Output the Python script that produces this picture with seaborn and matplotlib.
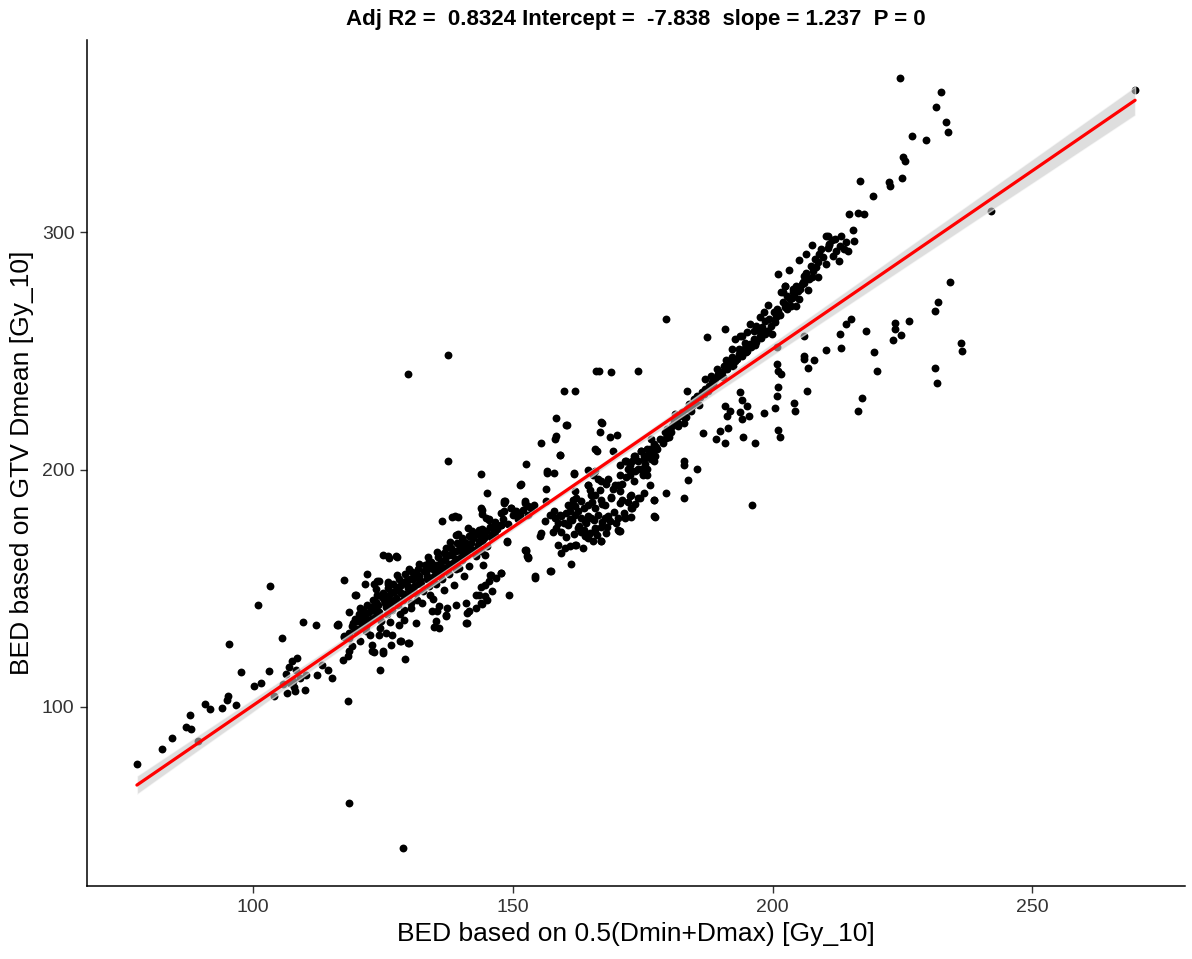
import numpy as np
import pandas as pd
import matplotlib
matplotlib.use("Agg")
import matplotlib.pyplot as plt
import seaborn as sns

# ---- data (x = BED 0.5(Dmin+Dmax), y = BED GTV Dmean) ----
# low tail
low_x = [77.6, 82.4, 84.3, 87.0, 88.0, 87.8, 89.3, 90.8, 91.6, 93.9, 95.0, 95.2, 96.7, 95.4, 97.7,
         101.0, 103.3, 100.2, 101.5, 103.0, 105.5, 104.0, 106.3, 107.5, 108.4, 107.6, 106.5, 108.0,
         109.0, 107.1, 109.6, 112.0, 110.0, 110.1, 112.2, 113.2, 114.3, 115.1, 116.3, 117.4, 117.4,
         118.2, 118.4, 128.9, 116.1, 117.4, 106.8, 108.2, 107.9, 105.8]
low_y = [76.0, 82.4, 87.0, 91.6, 90.8, 96.6, 85.7, 101.3, 99.2, 99.6, 103.0, 104.6, 100.8, 126.5, 114.7,
         143.0, 151.0, 108.8, 110.0, 115.0, 129.0, 104.6, 113.9, 119.3, 120.6, 111.0, 106.0, 106.7,
         112.0, 110.0, 135.7, 134.5, 107.0, 113.4, 113.4, 117.6, 115.5, 112.0, 134.5, 129.4, 153.4,
         102.5, 59.7, 40.8, 134.5, 129.8, 117.0, 115.5, 108.5, 109.5]

# around the start of the main band
start_x = [117.2, 118.2, 118.5, 119.1, 119.7, 122.0, 118.5, 120.5, 123.3, 125.0, 124.5, 125.0, 126.0,
           127.5, 129.3, 128.3, 129.8, 119.5, 121.6, 123.3, 124.3, 126.0, 120.8, 119.9, 121.0, 121.8,
           119.5, 118.5, 120.5, 122.9, 124.3, 125.6, 126.8, 128.5, 130.0, 126.6, 124.9, 122.9, 128.1,
           129.1, 131.4, 116.3, 126.2, 127.7, 123.9]
start_y = [119.7, 121.4, 123.5, 125.6, 147.0, 156.0, 140.0, 141.6, 123.0, 123.5, 115.5, 163.9, 163.4,
           163.4, 120.0, 127.7, 126.9, 147.0, 151.7, 151.7, 153.0, 151.7, 138.7, 136.1, 134.5, 131.9,
           132.4, 129.0, 127.7, 126.0, 130.3, 131.1, 130.3, 127.7, 126.9, 126.0, 122.7, 123.5, 134.5,
           136.6, 135.3, 134.9, 162.6, 163.0, 153.0]

# dense main band
band_x = [118.5, 119.0, 119.5, 120.0, 120.3, 120.8, 121.2, 121.5, 121.8, 122.0, 122.3, 122.6, 123.0,
          123.2, 123.5, 123.8, 124.0, 124.3, 124.6, 125.0, 125.2, 125.5, 125.8, 126.0, 126.2, 126.5,
          126.8, 127.0, 127.2, 127.5, 127.8, 128.0, 128.2, 128.5, 128.8, 129.0, 129.2, 129.5, 129.8,
          130.0, 130.3, 130.5, 130.8, 131.0, 131.3, 131.6, 131.8, 132.0, 132.3, 132.6, 133.0, 133.2,
          133.5, 133.8, 134.0, 134.3, 134.6, 134.9, 135.2, 135.5, 135.8, 136.0, 136.3, 136.7, 137.0,
          137.3, 137.6, 138.0, 138.3, 138.6, 139.0, 139.3, 139.6, 140.0, 140.4, 140.8, 141.2, 141.6,
          142.0, 142.5, 143.0, 143.5, 144.0, 144.5, 145.0, 145.5, 146.0, 146.5, 147.0, 148.0, 149.0,
          150.0, 151.0, 152.0, 153.0, 154.0]
band_y = [131.0, 134.0, 137.0, 133.0, 139.0, 136.0, 141.0, 138.0, 134.0, 143.0, 140.0, 137.0, 145.0,
          141.0, 138.0, 147.0, 143.0, 140.0, 136.0, 148.0, 145.0, 142.0, 139.0, 150.0, 147.0, 144.0,
          141.0, 152.0, 149.0, 146.0, 143.0, 154.0, 151.0, 148.0, 145.0, 141.0, 156.0, 153.0, 150.0,
          147.0, 144.0, 157.0, 154.0, 151.0, 148.0, 145.0, 158.0, 155.0, 152.0, 149.0, 160.0, 157.0,
          154.0, 151.0, 147.0, 161.0, 158.0, 155.0, 152.0, 163.0, 160.0, 157.0, 154.0, 165.0, 162.0,
          159.0, 156.0, 167.0, 164.0, 161.0, 158.0, 169.0, 166.0, 163.0, 170.0, 167.0, 164.0, 172.0,
          169.0, 166.0, 173.0, 170.0, 175.0, 172.0, 168.0, 176.0, 173.0, 178.0, 175.0, 179.0, 177.0,
          181.0, 179.0, 183.0, 181.0, 185.0]

# second layer of the dense main band
band2_x = [119.2, 120.6, 121.4, 122.1, 122.8, 123.6, 124.1, 124.8, 125.4, 126.1, 126.9, 127.4, 127.9,
           128.6, 129.1, 129.6, 130.2, 130.7, 131.2, 131.7, 132.1, 132.8, 133.4, 133.9, 134.5, 135.1,
           135.6, 136.1, 136.6, 137.2, 137.8, 138.4, 139.1, 139.8, 140.5, 141.0, 141.8, 142.4, 143.2,
           143.9, 144.8, 145.8, 122.5, 124.4, 126.3, 128.3, 130.4, 132.5, 134.7, 136.8, 138.7, 140.6,
           123.7, 125.9, 127.6, 129.9, 131.9, 133.6, 135.3, 137.9, 139.5, 141.4]
band2_y = [135.5, 137.8, 139.5, 136.2, 142.3, 144.1, 139.1, 146.2, 143.6, 145.4, 148.3, 144.2, 150.6,
           152.5, 147.4, 151.2, 153.8, 149.6, 155.7, 151.9, 153.4, 157.1, 155.2, 158.6, 153.3, 159.4,
           156.7, 161.6, 158.5, 163.7, 160.4, 165.6, 162.2, 167.4, 164.8, 169.1, 166.5, 171.3, 168.2,
           172.6, 174.3, 171.4, 130.5, 133.2, 135.8, 139.2, 141.6, 143.8, 145.5, 149.2, 151.4, 155.3,
           149.5, 152.8, 155.6, 158.2, 160.4, 163.1, 165.4, 169.6, 172.8, 175.3]

# band edge and points around 133-158
mid_x = [134.4, 135.8, 137.3, 137.1, 135.2, 135.8, 139.0, 140.9, 141.5, 141.1, 142.8, 144.0, 142.8,
         143.8, 144.7, 145.3, 145.9, 144.7, 146.7, 147.8, 136.3, 138.8, 144.0, 144.0, 145.3, 145.9,
         147.8, 148.2, 147.8, 139.0, 140.2, 142.1, 143.4, 144.0, 141.5, 144.7, 137.1, 137.7, 136.3,
         135.2, 133.8, 139.0, 140.2, 141.5, 139.6, 142.8, 140.9, 141.1, 135.4, 137.1, 134.8, 143.4,
         143.8, 145.0, 145.5, 149.3, 138.2, 139.4, 145.3, 146.1, 148.8, 152.6, 153.0, 154.3, 157.2,
         137.5, 129.8, 137.5, 143.8, 151.6, 145.1, 148.2, 149.7, 152.4, 153.0, 156.4, 156.4, 152.6,
         158.0, 161.8, 155.4, 159.0, 158.1, 158.3, 158.3, 160.2, 159.8, 162.0, 166.0]
mid_y = [140.3, 142.4, 141.6, 138.2, 136.1, 133.2, 142.9, 143.7, 140.3, 135.3, 141.6, 143.3, 147.0,
         150.4, 151.3, 152.9, 148.7, 146.6, 154.2, 156.3, 178.2, 180.3, 182.8, 181.1, 179.0, 176.0,
         176.5, 185.7, 181.5, 172.3, 171.0, 174.0, 174.4, 169.7, 168.0, 171.8, 166.8, 163.9, 161.3,
         159.7, 161.3, 165.5, 161.8, 159.2, 158.4, 163.4, 135.3, 139.5, 140.3, 138.7, 133.6, 147.0,
         143.7, 145.0, 155.5, 147.0, 179.8, 179.8, 178.6, 175.6, 169.3, 166.0, 163.0, 154.2, 157.1,
         248.3, 240.3, 203.4, 198.3, 193.7, 190.0, 186.6, 183.6, 185.7, 184.5, 186.6, 192.0, 202.5,
         198.7, 198.7, 211.0, 206.3, 213.0, 214.3, 221.8, 218.9, 233.0, 233.2, 241.6]

# lower branch 143-178
lowb_x = [143.8, 144.9, 146.7, 147.8, 148.2, 148.4, 149.7, 150.5, 151.4, 152.4, 153.5, 143.4, 144.4,
          146.5, 143.8, 144.7, 144.2, 145.7, 147.8, 148.8, 152.4, 153.0, 157.2, 158.1, 159.3, 160.2,
          161.0, 162.0, 163.1, 164.4, 166.3, 167.7, 168.6, 166.9, 165.8, 164.8, 163.9, 164.4, 165.4,
          162.5, 160.6, 158.7, 157.7, 155.4, 155.3, 158.7, 161.0, 162.1, 163.5, 166.9, 167.9, 170.2,
          152.6, 152.8, 159.3, 161.2, 157.4, 154.3, 162.0, 162.1, 164.4, 164.8, 165.8, 166.7, 166.9,
          167.7, 168.8, 169.2, 170.2, 170.7, 171.1, 167.9, 164.4, 165.8, 163.1, 162.0, 161.1, 177.2,
          177.2, 174.4, 172.7, 173.0, 171.5, 170.2, 170.7, 172.7, 159.1, 160.6, 161.6, 162.5, 163.9,
          165.0, 163.1, 164.4, 165.8, 166.9, 162.0, 160.0, 159.3, 171.5, 172.7, 156.6, 151.4, 156.6]
lowb_y = [183.6, 179.4, 176.5, 176.5, 182.4, 186.6, 183.6, 182.4, 180.7, 186.6, 183.6, 173.9, 171.0,
          172.3, 165.5, 163.9, 159.7, 155.5, 156.3, 169.7, 166.0, 162.6, 180.7, 179.4, 180.3, 181.5,
          182.4, 180.7, 179.4, 180.3, 180.7, 179.4, 178.2, 176.0, 174.4, 173.1, 171.8, 171.0, 169.7,
          175.2, 176.5, 177.3, 173.9, 173.1, 171.8, 168.1, 167.6, 168.1, 166.8, 169.7, 173.1, 174.4,
          165.5, 163.4, 164.7, 160.1, 157.1, 155.0, 190.8, 188.2, 193.3, 191.2, 189.1, 191.2, 187.0,
          184.9, 187.8, 192.0, 193.3, 190.8, 187.0, 194.1, 184.9, 183.6, 186.6, 184.5, 184.9, 187.0,
          180.3, 187.8, 189.1, 183.6, 179.8, 179.4, 174.0, 179.8, 180.7, 184.9, 187.0, 182.4, 178.2,
          179.4, 173.9, 172.3, 175.2, 169.7, 168.1, 166.8, 173.9, 179.4, 183.6, 199.2, 193.3, 198.7]

# extra points in the lower branch
lowb2_x = [158.2, 159.8, 161.4, 162.8, 164.1, 165.6, 167.2, 168.3, 169.4, 160.3, 161.7, 163.6, 166.1,
           168.1, 169.9, 171.3, 172.2, 173.6, 175.2, 176.3, 170.6, 168.9, 167.1, 165.2, 163.7, 160.9,
           157.9, 156.1]
lowb2_y = [175.4, 177.6, 178.8, 176.2, 177.4, 178.6, 177.8, 180.5, 182.2, 171.4, 172.7, 174.6, 172.4,
           175.9, 177.6, 181.9, 186.4, 185.4, 190.2, 193.4, 186.1, 188.3, 185.6, 186.4, 183.9, 179.1,
           182.6, 178.4]

# upper branch 160-200
upb_x = [166.9, 166.7, 168.6, 170.0, 165.8, 169.2, 160.4, 159.1, 161.8, 166.5, 168.8, 174.0, 179.5,
         187.4, 190.8, 167.1, 166.2, 164.4, 165.4, 166.3, 172.5, 173.6, 174.6, 175.5, 176.5, 177.4,
         172.5, 171.7, 173.4, 174.6, 175.9, 176.8, 175.3, 174.0, 172.5, 175.0, 175.9, 170.7, 172.1,
         173.0, 171.5, 173.6, 172.7, 174.6, 175.3, 176.3, 177.2, 176.5, 177.8, 178.4, 179.2, 179.7,
         180.1, 180.7, 181.1, 181.6, 182.0, 182.6, 183.0, 183.6, 183.9, 183.6, 184.5, 185.1, 185.5,
         186.0, 186.4, 187.0, 187.0, 187.8, 188.3, 188.9, 189.3, 189.7, 190.2, 190.6, 191.2, 191.8,
         192.2, 192.7, 193.5, 194.1, 194.5, 195.0, 195.6, 196.4, 196.9, 197.5, 198.3, 199.2, 170.7,
         171.7, 173.4, 175.0, 175.9, 177.2, 174.0, 171.1, 166.9, 168.3, 169.6, 165.0, 164.4, 165.8]
upb_y = [220.2, 216.0, 213.9, 214.7, 208.8, 208.0, 218.9, 206.3, 198.3, 241.6, 241.2, 241.6, 263.4,
         255.9, 259.2, 219.7, 207.6, 200.0, 197.9, 196.2, 197.5, 199.2, 200.4, 202.5, 204.6, 205.9,
         201.7, 203.8, 205.9, 208.0, 208.8, 207.6, 205.9, 203.4, 199.6, 198.3, 197.5, 197.5, 200.4,
         203.4, 203.8, 205.9, 199.2, 207.6, 204.6, 208.8, 210.9, 213.0, 208.8, 213.0, 216.0, 217.2,
         213.9, 218.5, 220.6, 220.2, 222.7, 224.4, 222.3, 225.6, 227.7, 233.2, 226.9, 229.0, 231.1,
         230.7, 232.8, 234.0, 238.2, 235.3, 237.0, 238.2, 242.4, 239.5, 241.2, 243.7, 242.4, 245.4,
         247.5, 245.8, 248.7, 247.9, 250.8, 250.0, 252.9, 255.0, 253.8, 256.3, 258.0, 258.4, 201.7,
         197.0, 195.0, 197.5, 200.4, 203.4, 200.4, 194.1, 195.0, 196.2, 193.3, 189.1, 193.3, 199.2]

# extra points in the upper branch
upb2_x = [178.9, 180.4, 181.8, 182.9, 184.2, 185.8, 186.7, 187.6, 188.6, 189.5, 190.4, 191.5, 192.4,
          193.2, 194.8, 195.9, 196.7, 197.8, 198.6, 199.7, 200.6, 201.4, 202.5, 203.8, 204.9, 205.6,
          206.4, 207.3, 208.2, 209.4, 210.6, 211.4, 212.1, 181.2, 184.8, 188.1, 191.1, 194.6, 197.2,
          200.9, 203.9, 177.6, 179.4, 176.1, 183.4]
upb2_y = [211.2, 215.6, 218.3, 219.8, 224.5, 227.1, 231.9, 233.2, 236.1, 240.3, 239.1, 244.2, 243.5,
          246.4, 249.3, 251.6, 252.4, 255.2, 256.9, 260.3, 264.1, 265.2, 269.4, 272.4, 275.3, 278.2,
          282.6, 285.9, 288.6, 292.8, 293.4, 296.6, 297.1, 223.4, 229.6, 239.4, 246.3, 253.2, 258.7,
          267.5, 274.6, 209.4, 213.2, 206.2, 222.1]

# upper branch 194-216
top_x = [213.2, 214.1, 213.0, 213.8, 214.5, 212.2, 211.7, 212.8, 210.9, 210.3, 207.6, 206.5, 205.0,
         203.1, 201.0, 209.0, 209.8, 208.8, 210.3, 208.4, 207.8, 208.8, 207.1, 206.1, 205.9, 204.6,
         205.2, 204.0, 206.9, 204.2, 203.3, 202.3, 201.7, 202.7, 202.1, 203.6, 202.7, 201.1, 199.2,
         200.2, 198.3, 197.5, 198.5, 199.4, 200.4, 196.9, 195.6, 196.4, 197.9, 198.9, 199.8, 195.0,
         194.1, 193.7, 192.7, 193.5, 195.0, 192.2, 207.5, 206.0, 202.3, 202.1, 205.0, 204.6, 202.3]
top_y = [298.3, 295.8, 294.1, 292.9, 292.0, 292.0, 289.9, 287.8, 295.0, 298.3, 294.5, 290.8, 288.2,
         284.0, 282.4, 290.8, 289.5, 287.4, 286.6, 285.3, 283.6, 281.1, 280.3, 281.5, 279.0, 277.3,
         276.1, 276.1, 275.6, 273.1, 271.8, 277.3, 274.8, 273.1, 270.6, 268.9, 267.6, 266.8, 269.3,
         266.4, 266.4, 264.3, 262.6, 263.4, 262.2, 260.5, 261.3, 258.4, 260.1, 258.4, 257.1, 258.0,
         256.3, 256.3, 255.0, 250.8, 252.1, 250.8, 281.0, 278.6, 277.3, 274.8, 271.8, 268.9, 268.5]

# upper tail
tail_x = [224.5, 232.5, 231.4, 233.3, 233.8, 226.8, 229.6, 225.2, 225.4, 224.9, 222.4, 222.6, 216.8,
          219.3, 214.7, 216.4, 217.6, 215.5, 215.7, 269.8, 242.1, 210.7, 210.9]
tail_y = [364.7, 358.8, 352.5, 346.2, 342.0, 340.3, 338.7, 331.5, 329.8, 322.7, 321.0, 319.3, 321.4,
          315.1, 307.6, 308.0, 307.6, 300.8, 296.2, 359.7, 308.8, 298.3, 294.5]

# lower branch right side
rlow_x = [200.8, 206.0, 210.3, 213.2, 213.0, 214.1, 215.1, 200.8, 201.1, 201.7, 206.0, 206.1, 208.0,
          206.9, 206.7, 201.1, 200.9, 204.2, 204.4, 200.4, 198.3, 201.1, 201.5, 196.6, 193.7, 194.1,
          195.0, 193.7, 195.4, 194.1, 190.8, 191.8, 191.2, 189.9, 191.4, 190.8, 189.1, 194.3, 186.6,
          183.0, 183.0, 183.7, 185.5, 183.0, 196.0, 179.5, 177.2, 177.4, 172.5, 174.0, 170.4, 234.2,
          231.9, 231.2, 226.2, 224.7, 223.5, 223.5, 223.1, 218.0, 219.5, 220.1, 217.2, 216.4, 231.2,
          231.7, 236.3, 236.5]
rlow_y = [251.7, 256.3, 250.4, 251.3, 257.0, 261.3, 263.4, 244.5, 241.6, 240.3, 248.0, 246.6, 246.2,
          242.9, 233.2, 234.9, 231.0, 228.2, 224.8, 226.0, 224.0, 216.8, 213.9, 211.0, 232.8, 229.4,
          226.9, 224.4, 222.7, 221.4, 226.9, 224.8, 222.7, 216.4, 217.6, 211.0, 213.0, 213.9, 215.5,
          203.8, 201.7, 195.4, 200.4, 188.2, 184.9, 190.0, 187.0, 179.8, 188.7, 187.8, 174.0, 279.0,
          270.6, 266.8, 262.6, 256.7, 261.7, 259.2, 254.6, 258.4, 249.6, 241.6, 230.3, 224.8, 242.9,
          236.6, 253.4, 250.0]

TITLE = "Adj R2 =  0.8324 Intercept =  -7.838  slope = 1.237  P = 0"
XLABEL = "BED based on 0.5(Dmin+Dmax) [Gy_10]"
YLABEL = "BED based on GTV Dmean [Gy_10]"
YTICKS = [100, 200, 300]
XTICKS = [100, 150, 200, 250]

xs = (low_x + start_x + band_x + band2_x + mid_x + lowb_x + lowb2_x + upb_x + upb2_x
      + top_x + tail_x + rlow_x)
ys = (low_y + start_y + band_y + band2_y + mid_y + lowb_y + lowb2_y + upb_y + upb2_y
      + top_y + tail_y + rlow_y)
df = pd.DataFrame({"bed_half": xs, "bed_mean": ys})

sns.set_style("ticks")
plt.rcParams["font.family"] = ["Liberation Sans", "DejaVu Sans"]

fig = plt.figure(figsize=(11.92, 9.59), dpi=100)
ax = fig.add_axes([87 / 1192, 1 - 886 / 959, (1185 - 87) / 1192, (886 - 40) / 959])

sns.scatterplot(data=df, x="bed_half", y="bed_mean", color="black", s=32,
                linewidth=0, ax=ax, zorder=2)
# grey confidence band
n_before = len(ax.collections)
sns.regplot(data=df, x="bed_half", y="bed_mean", scatter=False, ci=95, color="#7f7f7f",
            line_kws={"linewidth": 0}, ax=ax)
for c in ax.collections[n_before:]:
    c.set_facecolor("#c8c8c8")
    c.set_alpha(0.6)
    c.set_zorder(3)
# red fitted line
sns.regplot(data=df, x="bed_half", y="bed_mean", scatter=False, ci=None, color="#ff0000",
            line_kws={"linewidth": 2.3, "zorder": 4}, ax=ax)

xmin, xmax = min(xs), max(xs)
ymin, ymax = min(ys), max(ys)
ax.set_xlim(xmin - 0.05 * (xmax - xmin), xmax + 0.05 * (xmax - xmin))
ax.set_ylim(ymin - 0.05 * (ymax - ymin), ymax + 0.05 * (ymax - ymin))
ax.set_xticks(XTICKS)
ax.set_yticks(YTICKS)
ax.tick_params(axis="both", labelsize=14, labelcolor="#333333", color="#333333",
               length=5, width=1, pad=4)
for s in ["top", "right"]:
    ax.spines[s].set_visible(False)
for s in ["left", "bottom"]:
    ax.spines[s].set_linewidth(1.1)
    ax.spines[s].set_color("black")

ax.set_xlabel(XLABEL, fontsize=19, labelpad=5, color="black")
ax.set_ylabel(YLABEL, fontsize=19, labelpad=6, color="black")
ax.set_title(TITLE, fontsize=16, fontweight="bold", pad=11, color="black")

fig.savefig("out.png", dpi=100)
